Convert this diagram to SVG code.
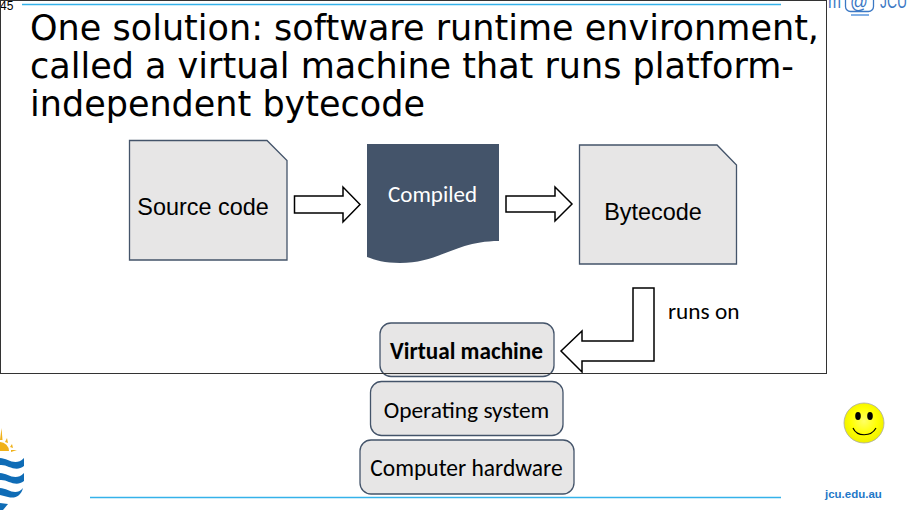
<svg xmlns="http://www.w3.org/2000/svg" width="912" height="510" viewBox="0 0 912 510">
<defs>
<radialGradient id="sm" cx="0.5" cy="0.45" r="0.55"><stop offset="0" stop-color="#ffff66"/><stop offset="0.6" stop-color="#ffff00"/><stop offset="1" stop-color="#eeee00"/></radialGradient>
</defs>
<style>
.box{fill:#e7e6e6;stroke:#44546a;stroke-width:1.3}
.arrow{fill:#fff;stroke:#000;stroke-width:1.5}
.c{font-family:Carlito,"Open Sans","Noto Sans",sans-serif}
.lib{font-family:"Liberation Sans",Arial,sans-serif}
.t{font-family:"DejaVu Sans",sans-serif;font-size:36px;fill:#000}
.rule{stroke:#35b2ea;stroke-width:1.5}
.wave{fill:#0f6cb6}
.sun{fill:#f0b11a}
.logo{fill:#3b78c4}
</style>
<rect width="912" height="510" fill="#fff"/>
<g id="frame">
<rect x="0.5" y="0.5" width="826" height="373" fill="#fff"/>
<line class="rule" x1="22" y1="4.500" x2="781" y2="4.500"/>
<line class="rule" x1="90" y1="497.500" x2="781" y2="497.500"/>
<text x="0" y="9.500" class="lib" font-size="12" fill="#000">45</text>
</g>
<g id="title">
<text class="t" x="30" y="40" textLength="789" lengthAdjust="spacingAndGlyphs">One solution: software runtime environment,</text>
<text class="t" x="30" y="78" textLength="764" lengthAdjust="spacingAndGlyphs">called a virtual machine that runs platform-</text>
<text class="t" x="30" y="116" textLength="395" lengthAdjust="spacingAndGlyphs">independent bytecode</text>
</g>
<g id="source-code">
<path class="box" d="M129.500 140.500H267L287 160.500V260H129.500Z"/>
<text class="lib" x="203" y="215" font-size="23.400" text-anchor="middle">Source code</text>
</g>
<g id="compiled">
<path d="M367 144H499V241C455 241 440 263 400 263C385 263 375 260 367 257Z" fill="#44546a"/>
<text class="c" x="432.500" y="202" font-size="23" fill="#fff" text-anchor="middle">Compiled</text>
</g>
<g id="bytecode">
<path class="box" d="M579.500 145H717L736.500 165V264H579.500Z"/>
<text class="lib" x="653" y="220" font-size="23.400" text-anchor="middle">Bytecode</text>
</g>
<g id="virtual-machine">
<rect class="box" x="380" y="323" width="174" height="53.500" rx="11"/>
<text class="c" x="466.500" y="359" font-size="23.200" font-weight="700" text-anchor="middle">Virtual machine</text>
</g>
<g id="operating-system">
<rect class="box" x="370.500" y="381.500" width="192.500" height="54" rx="11"/>
<text class="c" x="466.500" y="418" font-size="23.400" text-anchor="middle">Operating system</text>
</g>
<g id="computer-hardware">
<rect class="box" x="360" y="440" width="214" height="54" rx="11"/>
<text class="c" x="466.500" y="476" font-size="23.500" text-anchor="middle">Computer hardware</text>
</g>
<g id="connectors">
<path class="arrow" d="M294.500 196H343V187L360 204.500L343 222V213H294.500Z"/>
<path class="arrow" d="M506 196H555V187L572 204L555 221V212H506Z"/>
<path class="arrow" d="M633 288H654V361H582V372L561 351L582 331V341H633Z"/>
</g>
<g id="runs-on-label">
<text class="c" x="668" y="319" font-size="23.300">runs on</text>
</g>
<g id="frame-outline">
<rect x="0.500" y="0.500" width="826" height="373" fill="none" stroke="#333" stroke-width="1"/>
</g>
<g id="smiley">
<circle cx="864" cy="423" r="20" fill="url(#sm)" stroke="#aaa" stroke-width="0.8"/>
<ellipse cx="858" cy="416" rx="2.800" ry="4" fill="#000"/>
<ellipse cx="870" cy="416" rx="2.800" ry="4" fill="#000"/>
<path d="M853 428C857 437 871 437 876 428" fill="none" stroke="#000" stroke-width="1.200"/>
</g>
<g id="logo">
<path class="sun" d="M0 451V442A9 9 0 0 1 9 451ZM0 440L1.500 428L2.500 440ZM5 442L7 438L8 443ZM10 447L12 444L13 448ZM11 450H17L11 452Z"/>
<path class="wave" d="M0 458C8 458 15 467 24 458V466C15 473 8 464 0 465Z"/>
<path class="wave" d="M0 473C8 473 15 482 24 473V481C15 488 8 479 0 480Z"/>
<path class="wave" d="M0 488C8 488 15 497 23 488C21 496 15 499 8 497L0 495Z"/>
<path class="wave" d="M0 503L8 504L3 510H0Z"/>
</g>
<g id="at-jcu">
<text x="828" y="8" class="lib logo" font-size="21" textLength="13" lengthAdjust="spacingAndGlyphs">m</text>
<rect x="845.500" y="-6" width="28" height="17.500" rx="5" fill="none" stroke="#3b78c4" stroke-width="1.300"/>
<text x="850" y="8" class="lib logo" font-size="20" textLength="18" lengthAdjust="spacingAndGlyphs">@</text>
<path d="M851 15H869" stroke="#5a96dc" stroke-width="1.500"/>
<text x="880" y="8" class="lib logo" font-size="21" textLength="27" lengthAdjust="spacingAndGlyphs">JCU</text>
<text x="825" y="498" class="lib" font-size="11.500" font-weight="700" fill="#1f78c8">jcu.edu.au</text>
</g>
</svg>
